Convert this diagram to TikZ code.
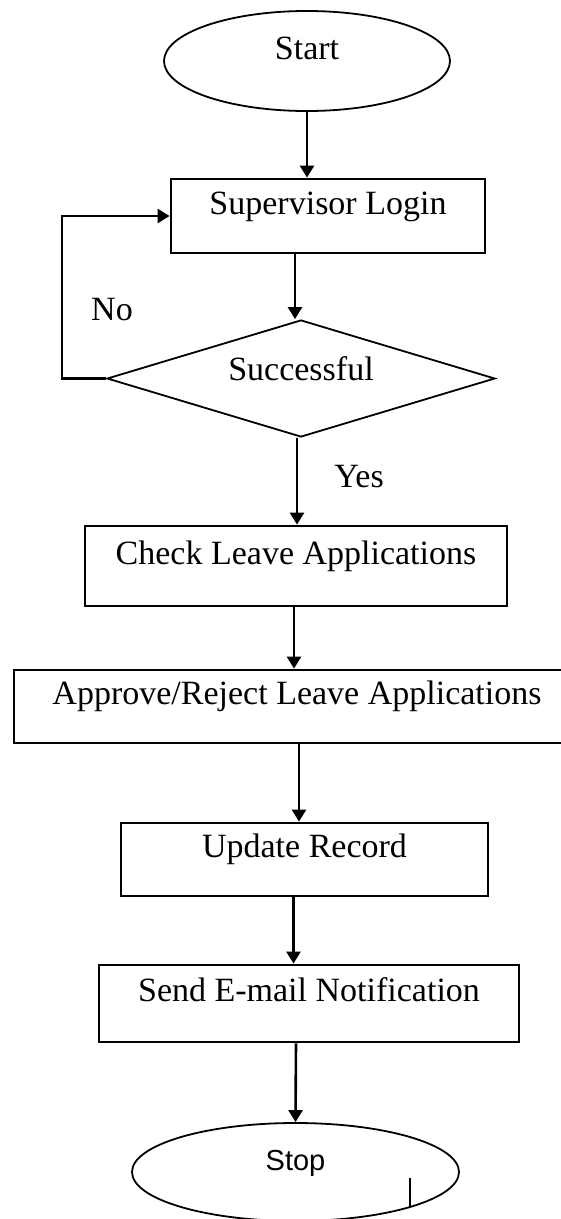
\documentclass[tikz,border=0pt]{standalone}
\usepackage{fontspec}
\setmainfont{Liberation Serif}
\newfontfamily\stopfont{Liberation Sans}
\usetikzlibrary{shapes.geometric,arrows.meta}
\begin{document}
\begin{tikzpicture}
  [
    x=1pt, y=-1pt,
    term/.style={ellipse, draw=black, line width=1.8pt, inner sep=0pt,
      text height=24pt, text depth=28pt, font=\fontsize{34pt}{40pt}\selectfont},
    cell/.style={rectangle, draw=black, line width=2.8pt, inner sep=0pt,
      text height=24pt, text depth=28pt, font=\fontsize{34pt}{40pt}\selectfont},
    test/.style={diamond, draw=black, line width=1.8pt, inner sep=0pt, aspect=3.3,
      text height=24pt, text depth=20pt, font=\fontsize{34pt}{40pt}\selectfont},
    lbl/.style={font=\fontsize{34pt}{40pt}\selectfont},
    ld/.style={draw=black, line width=2.6pt, -{Triangle[width=14pt,length=12pt]}}
  ]
  \useasboundingbox (0,0) rectangle (561,1219);

  \node (start) at (307,61) [term, minimum width=286pt, minimum height=100pt] {Start};
  \node (login) at (328,216) [cell, minimum width=314pt, minimum height=74pt] {Supervisor Login\hspace{28pt}};
  \node (dec) at (301,378.5) [test, minimum width=388pt, minimum height=117pt] {Successful};
  \node (check) at (296,566) [cell, minimum width=422pt, minimum height=80pt] {Check Leave Applications};
  \node (approve) at (297,706.5) [cell, minimum width=566pt, minimum height=73pt] {Approve/Reject Leave Applications};
  \node (update) at (304.5,859.5) [cell, minimum width=367pt, minimum height=73pt] {Update Record};
  \node (send) at (309,1003.5) [cell, minimum width=420pt, minimum height=77pt] {Send E-mail Notification};
  \node (stop) at (295.5,1172) [term, minimum width=327pt, minimum height=98pt, font=\stopfont\fontsize{29pt}{34pt}\selectfont] {Stop};

  \node (no) at (112,310) [lbl] {No};
  \node (yes) at (359,477) [lbl] {Yes};

  \draw [ld] (start.south) -- (start.south |- login.north);
  \draw [ld] ([xshift=-33pt]login.south) -- ([xshift=-6pt]dec.north);
  \draw [ld] ([xshift=-4pt]dec.south) -- ([xshift=-4pt]dec.south |- check.north);
  \draw [ld] ([xshift=-2pt]check.south) -- ([xshift=-2pt]check.south |- approve.north);
  \draw [ld] ([xshift=2pt]approve.south) -- ([xshift=2pt]approve.south |- update.north);
  \draw [ld] ([xshift=-11pt]update.south) -- ([xshift=-11pt]update.south |- send.north);
  \draw [ld] ([xshift=-13pt]send.south) -- (stop.north);
  \draw [ld] (dec.west) -- ++(-44,0) |- (login.west);

  % stray tick inside the stop oval
  \draw [line width=1.8pt] (410,1178) -- (410,1208);
\end{tikzpicture}
\end{document}
